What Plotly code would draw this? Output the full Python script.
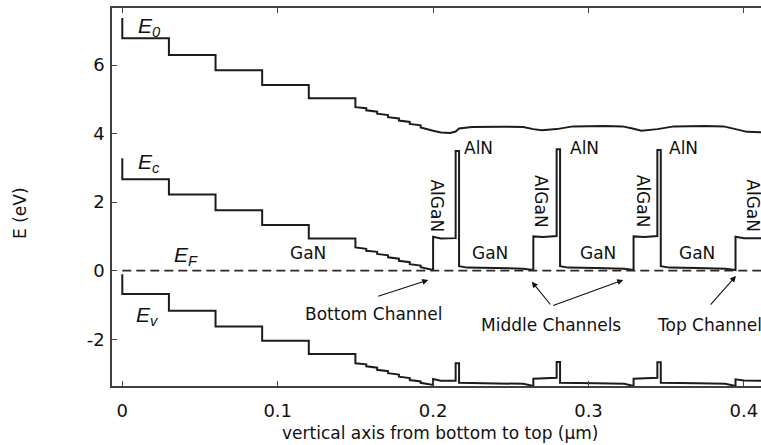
import plotly.graph_objects as go

# Band-edge profiles along the growth direction (position in um, energy in eV)
e0_x = [0, 0, 0.03, 0.03, 0.06, 0.06, 0.09, 0.09, 0.12, 0.12, 0.15, 0.15,
        0.157, 0.157, 0.164, 0.164, 0.171, 0.171, 0.178, 0.178, 0.185, 0.185,
        0.192, 0.192, 0.2, 0.205, 0.211, 0.2145, 0.2167, 0.225, 0.245, 0.258,
        0.2645, 0.27, 0.2795, 0.29, 0.31, 0.322, 0.329, 0.334, 0.3443, 0.355,
        0.375, 0.387, 0.3946, 0.402, 0.412]
e0_y = [7.37, 6.78, 6.78, 6.29, 6.29, 5.85, 5.85, 5.42, 5.42, 5.03, 5.03, 4.77,
        4.74, 4.68, 4.64, 4.58, 4.54, 4.48, 4.44, 4.38, 4.34, 4.28,
        4.24, 4.18, 4.08, 4.03, 4.02, 4.06, 4.15, 4.19, 4.20, 4.19,
        4.13, 4.10, 4.13, 4.21, 4.22, 4.21, 4.14, 4.08, 4.13, 4.21,
        4.22, 4.21, 4.13, 4.05, 4.04]

ec_x = [0, 0, 0.03, 0.03, 0.06, 0.06, 0.09, 0.09, 0.12, 0.12, 0.15, 0.15,
        0.157, 0.157, 0.164, 0.164, 0.171, 0.171, 0.178, 0.178, 0.185, 0.185,
        0.192, 0.192, 0.2, 0.2, 0.205, 0.2145, 0.2145, 0.2167, 0.2167, 0.222,
        0.24, 0.258, 0.2645, 0.2645, 0.271, 0.2795, 0.2795, 0.2817, 0.2817,
        0.287, 0.305, 0.323, 0.329, 0.329, 0.336, 0.3443, 0.3443, 0.3465,
        0.3465, 0.352, 0.37, 0.388, 0.3946, 0.3946, 0.40, 0.412]
ec_y = [3.28, 2.67, 2.67, 2.22, 2.22, 1.76, 1.76, 1.33, 1.33, 0.94, 0.94, 0.68,
        0.64, 0.58, 0.55, 0.49, 0.45, 0.39, 0.35, 0.29, 0.25, 0.19,
        0.15, 0.10, 0.02, 0.99, 0.94, 0.95, 3.49, 3.49, 0.13, 0.09,
        0.08, 0.06, 0.02, 1.00, 0.98, 1.01, 3.54, 3.54, 0.13,
        0.09, 0.08, 0.06, 0.02, 1.00, 0.98, 1.01, 3.52, 3.52,
        0.13, 0.09, 0.08, 0.06, 0.02, 0.99, 0.95, 0.95]

ev_x = [0, 0, 0.03, 0.03, 0.06, 0.06, 0.09, 0.09, 0.12, 0.12, 0.15, 0.15,
        0.157, 0.157, 0.164, 0.164, 0.171, 0.171, 0.178, 0.178, 0.185, 0.185,
        0.192, 0.192, 0.2, 0.2, 0.205, 0.2145, 0.2145, 0.2167, 0.2167, 0.24,
        0.258, 0.2645, 0.2645, 0.2795, 0.2795, 0.2817, 0.2817, 0.305, 0.323,
        0.329, 0.329, 0.3443, 0.3443, 0.3465, 0.3465, 0.37, 0.388, 0.3946,
        0.3946, 0.40, 0.412]
ev_y = [-0.10, -0.68, -0.68, -1.17, -1.17, -1.63, -1.63, -2.04, -2.04, -2.43, -2.43, -2.70,
        -2.73, -2.79, -2.83, -2.89, -2.93, -2.99, -3.03, -3.09, -3.13, -3.19,
        -3.23, -3.27, -3.33, -3.16, -3.21, -3.21, -2.70, -2.70, -3.27, -3.28,
        -3.30, -3.36, -3.15, -3.12, -2.66, -2.66, -3.27, -3.28, -3.30,
        -3.36, -3.15, -3.12, -2.67, -2.67, -3.27, -3.28, -3.30, -3.36,
        -3.17, -3.20, -3.21]

fermi_x = [0, 0.412]
fermi_y = [0, 0]

x_ticks = [0, 0.1, 0.2, 0.3, 0.4]
x_tick_text = ["0", "0.1", "0.2", "0.3", "0.4"]
y_ticks = [-2, 0, 2, 4, 6]
y_tick_text = ["-2", "0", "2", "4", "6"]

# Layer names: (text, x, y, angle)
layer_labels = [
    ("GaN", 0.1197, 0.51, 0),
    ("AlGaN", 0.2028, 1.89, 90), ("AlN", 0.2295, 3.57, 0), ("GaN", 0.2369, 0.53, 0),
    ("AlGaN", 0.2693, 2.01, 90), ("AlN", 0.2972, 3.57, 0), ("GaN", 0.3058, 0.53, 0),
    ("AlGaN", 0.3353, 2.03, 90), ("AlN", 0.3610, 3.57, 0), ("GaN", 0.3701, 0.53, 0),
    ("AlGaN", 0.4056, 1.89, 90),
]
# Band names: (text, subscript, x, y)
band_labels = [("E", "0", 0.0090, 7.12), ("E", "c", 0.0090, 3.13),
               ("E", "F", 0.0320, 0.42), ("E", "v", 0.0075, -1.32)]
# Channel callouts: (text, x, y, anchor)
channel_labels = [("Bottom Channel", 0.1618, -1.263, "center"),
                  ("Middle Channels", 0.2761, -1.584, "center"),
                  ("Top Channel", 0.3430, -1.584, "left")]
# Arrows: (tail x, tail y, head x, head y)
channel_arrows = [(0.1637, -0.758, 0.1969, -0.271),
                  (0.2763, -1.03, 0.2635, -0.32),
                  (0.2763, -1.03, 0.3224, -0.27),
                  (0.3777, -1.03, 0.3949, -0.155)]

LINE = "#1c1c1c"
FONT = "DejaVu Sans"

fig = go.Figure()
for xs, ys in ((e0_x, e0_y), (ec_x, ec_y), (ev_x, ev_y)):
    assert len(xs) == len(ys)
    fig.add_trace(go.Scatter(x=xs, y=ys, mode="lines",
                             line=dict(color=LINE, width=2), showlegend=False,
                             hoverinfo="skip"))
fig.add_trace(go.Scatter(x=fermi_x, y=fermi_y, mode="lines",
                         line=dict(color="#2a2a2a", width=1.8, dash="9px,5px"),
                         showlegend=False, hoverinfo="skip"))

ann = []
for text, x, y, ang in layer_labels:
    ann.append(dict(x=x, y=y, text=text, showarrow=False, textangle=ang,
                    xanchor="center", yanchor="middle",
                    font=dict(family=FONT, size=17, color="#111")))
for e, sub, x, y in band_labels:
    ann.append(dict(x=x, y=y, text=f"<i>{e}<sub>{sub}</sub></i>", showarrow=False,
                    xanchor="left", yanchor="middle",
                    font=dict(family="Liberation Sans", size=21, color="#111")))
for text, x, y, anchor in channel_labels:
    ann.append(dict(x=x, y=y, text=text, showarrow=False, xanchor=anchor,
                    yanchor="middle", font=dict(family=FONT, size=17, color="#111")))
for tx, ty, hx, hy in channel_arrows:
    ann.append(dict(x=hx, y=hy, ax=tx, ay=ty, axref="x", ayref="y", text="",
                    showarrow=True, arrowhead=2, arrowsize=1.1, arrowwidth=1.1,
                    arrowcolor="#111"))
ann.append(dict(x=0.505, y=-0.124, xref="paper", yref="paper",
                text="vertical axis from bottom to top (μm)", showarrow=False,
                xanchor="center", yanchor="middle",
                font=dict(family=FONT, size=17, color="#111")))
ann.append(dict(x=-0.1418, y=0.4577, xref="paper", yref="paper", text="E (eV)",
                showarrow=False, textangle=-90, xanchor="center", yanchor="middle",
                font=dict(family=FONT, size=17, color="#111")))

fig.update_layout(
    width=761, height=445,
    margin=dict(l=112, r=0, t=8, b=59),
    paper_bgcolor="white", plot_bgcolor="white",
    annotations=ann,
    xaxis=dict(range=[-0.00663, 0.4110], tickvals=x_ticks, ticktext=x_tick_text,
               ticks="inside", ticklen=5, tickwidth=1, tickcolor="#444",
               showline=True, linecolor="#404040", linewidth=1.5, mirror="ticks",
               showgrid=False, zeroline=False, ticklabelstandoff=8,
               tickfont=dict(family=FONT, size=18, color="#111")),
    yaxis=dict(range=[-3.363, 7.663], tickvals=y_ticks, ticktext=y_tick_text,
               ticks="inside", ticklen=5, tickwidth=1, tickcolor="#444",
               showline=True, linecolor="#404040", linewidth=1.5, mirror=False,
               showgrid=False, zeroline=False, ticklabelstandoff=2,
               tickfont=dict(family=FONT, size=18, color="#111")),
)

fig.write_html("out.html")
